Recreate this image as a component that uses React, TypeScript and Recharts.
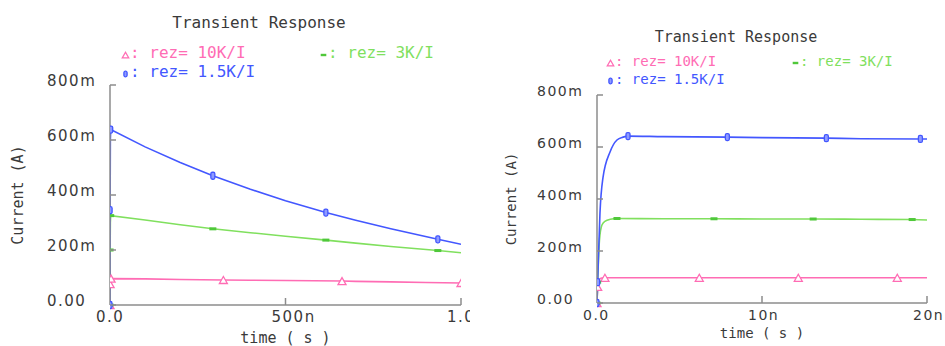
import React from 'react';
import { LineChart, Line, XAxis, YAxis, Legend } from 'recharts';

const MONO = '"DejaVu Sans Mono", monospace';
const SANS = '"DejaVu Sans", sans-serif';
const AXIS = '#8c8c8c';
const INK = '#3a3a3a';
const PINK = '#ff6cb4';
const GREEN = '#80e05e';
const BLUE = '#4357ff';

// current axis, shared by both plots (values in mA)
const currentTicks = [0, 200, 400, 600, 800];
const currentLabels = ['0.00', '200m', '400m', '600m', '800m'];

// left plot: 0 .. 1us (time in ns)
const longTicks = [0, 500, 1000];
const longLabels = ['0.0', '500n', '1.0u'];

const longPinkT = [0, 0.3, 3, 100, 200, 323, 400, 500, 661, 700, 800, 900, 1000];
const longPinkI = [0, 76, 96, 95, 93, 91, 90, 89, 87, 86, 84, 82, 80];
const longPinkMarks = [0, 1, 2, 5, 8, 12];

const longGreenT = [0, 0.3, 1, 2, 100, 200, 293, 400, 500, 615, 700, 800, 934, 1000];
const longGreenI = [0, 200, 300, 325, 309, 292, 277, 263, 250, 236, 225, 213, 198, 190];
const longGreenMarks = [0, 1, 3, 6, 9, 12];

const longBlueT = [0, 0.3, 1, 2, 100, 200, 293, 400, 500, 615, 700, 800, 934, 1000];
const longBlueI = [0, 345, 600, 638, 575, 518, 470, 421, 379, 336, 308, 277, 239, 221];
const longBlueMarks = [0, 1, 3, 6, 9, 12];

// right plot: 0 .. 20ns
const shortTicks = [0, 10, 20];
const shortLabels = ['0.0', '10n', '20n'];

const shortPinkT = [0, 0.04, 0.1, 0.2, 0.3, 0.48, 3, 6.2, 9, 12.2, 15, 18.2, 20];
const shortPinkI = [0, 62, 86, 94, 96, 97, 97, 97, 97, 97, 97, 97, 97];
const shortPinkMarks = [0, 1, 5, 7, 9, 11];

const shortGreenT = [0, 0.04, 0.15, 0.3, 0.5, 0.8, 1.21, 4, 7.09, 10, 13.1, 16, 19.1, 20];
const shortGreenI = [0, 80, 242, 300, 315, 322, 325, 324, 324, 323, 323, 322, 321, 319];
const shortGreenMarks = [0, 1, 6, 8, 10, 12];

const shortBlueT = [0, 0.04, 0.18, 0.36, 0.79, 1.21, 1.58, 1.88, 4, 7.9, 10, 13.9, 16, 19.6, 20];
const shortBlueI = [0, 80, 346, 481, 581, 627, 638, 642, 640, 638, 636, 634, 632, 631, 631];
const shortBlueMarks = [0, 1, 7, 9, 11, 13];

const seriesNames = ['rez= 10K/I', 'rez= 3K/I', 'rez= 1.5K/I'];
const seriesColors = [PINK, GREEN, BLUE];
const seriesMarkers = ['tri', 'dash', 'box'];

const toPoints = (t: number[], v: number[], marks: number[]) =>
  t.map((time, i) => ({ t: time, i: v[i], m: marks.includes(i) }));

function Marker({ kind, x, y, color, s = 1 }: any) {
  if (kind === 'tri') {
    const w = 4 * s;
    const h = 3.5 * s;
    return (
      <polygon
        points={`${x - w},${y + h} ${x + w},${y + h} ${x},${y - h}`}
        fill="#fff"
        stroke={color}
        strokeWidth={1.3}
      />
    );
  }
  if (kind === 'dash') {
    return <rect x={x - 3.5 * s} y={y - 1.5 * s} width={7 * s} height={3 * s} fill="#4fc83a" />;
  }
  return (
    <rect
      x={x - 2 * s}
      y={y - 3.5 * s}
      width={4 * s}
      height={7 * s}
      rx={1.5}
      fill="#8f9bff"
      stroke={color}
      strokeWidth={1.3}
    />
  );
}

const markerDot = (kind: string, color: string) => (props: any) => {
  const { cx, cy, payload, index } = props;
  if (!payload || !payload.m) return <g key={index} />;
  return <Marker key={index} kind={kind} x={cx} y={cy} color={color} />;
};

function YTick({ x, y, payload, fs, lx }: any) {
  const label = currentLabels[currentTicks.indexOf(payload.value)];
  return (
    <g>
      <line x1={x} x2={x + 6} y1={y} y2={y} stroke={AXIS} strokeWidth={1.5} />
      <text x={x - lx} y={y - 4} dominantBaseline="central" fontFamily={SANS} fontSize={fs} fill={INK} letterSpacing={1.5}>
        {label}
      </text>
    </g>
  );
}

function XTick({ x, y, payload, ticks, labels, fs }: any) {
  const label = labels[ticks.indexOf(payload.value)];
  return (
    <g>
      {payload.value !== 0 && <line x1={x} x2={x} y1={y} y2={y - 7} stroke={AXIS} strokeWidth={1.5} />}
      <text x={x - 14} y={y + 12} dominantBaseline="central" fontFamily={SANS} fontSize={fs} fill={INK} letterSpacing={1.5}>
        {label}
      </text>
    </g>
  );
}

// legend spots: [x of symbol, y of row centre] for pink, green, blue
function LegendBlock({ payload, fs, spots }: any) {
  return (
    <div style={{ position: 'relative', width: '100%', height: '100%', fontFamily: MONO, fontSize: fs }}>
      {seriesNames.map((name, k) => {
        const p = (payload || []).find((e: any) => e.value === name);
        const color = p ? p.color : seriesColors[k];
        const [x, y] = spots[k];
        return (
          <div
            key={name}
            style={{ position: 'absolute', left: x, top: y - 8, height: 16, lineHeight: '16px', whiteSpace: 'nowrap', color }}
          >
            <svg width={9} height={16} style={{ display: 'inline-block', verticalAlign: 'top' }}>
              <Marker kind={seriesMarkers[k]} x={4.5} y={10} color={color} s={0.8} />
            </svg>
            {': ' + name}
          </div>
        );
      })}
    </div>
  );
}

function Plot({ left, width, margin, yAxisW, xAxisH, fs, legendFs, ticks, labels, domain, series, curve, title, spots, yLabelOffset, xLabelOffset, lx }: any) {
  return (
    <div style={{ position: 'absolute', left, top: 0, width, height: 346 }}>
      <div
        style={{
          position: 'absolute',
          left: title.x - 150,
          top: title.y - 10,
          width: 300,
          textAlign: 'center',
          fontFamily: MONO,
          fontSize: fs,
          lineHeight: '20px',
          color: INK,
        }}
      >
        Transient Response
      </div>
      <LineChart width={width} height={346} margin={margin}>
        <XAxis
          dataKey="t"
          type="number"
          domain={domain}
          ticks={ticks}
          allowDataOverflow
          height={xAxisH}
          tickSize={0}
          tickMargin={0}
          tickLine={false}
          axisLine={{ stroke: AXIS, strokeWidth: 1.5 }}
          tick={<XTick ticks={ticks} labels={labels} fs={fs - 1} />}
          interval={0}
          label={{ value: 'time ( s )', position: 'insideBottom', offset: xLabelOffset, fill: INK, fontSize: fs - 1, fontFamily: MONO }}
        />
        <YAxis
          type="number"
          domain={[0, 800]}
          ticks={currentTicks}
          width={yAxisW}
          tickSize={0}
          tickMargin={0}
          tickLine={false}
          axisLine={{ stroke: AXIS, strokeWidth: 1.5 }}
          tick={<YTick fs={fs - 1} lx={lx} />}
          interval={0}
          label={{
            value: 'Current (A)',
            angle: -90,
            position: 'insideLeft',
            offset: yLabelOffset,
            fill: INK,
            fontSize: fs - 1,
            fontFamily: MONO,
            style: { textAnchor: 'middle' },
          }}
        />
        <Legend
          verticalAlign="middle"
          align="center"
          layout="horizontal"
          wrapperStyle={{ left: 0, top: 0, width, height: 90 }}
          content={<LegendBlock fs={legendFs} spots={spots} />}
        />
        {series.map((s: any, k: number) => (
          <Line
            key={seriesNames[k]}
            data={s}
            dataKey="i"
            name={seriesNames[k]}
            type={curve}
            stroke={seriesColors[k]}
            strokeWidth={1.6}
            dot={markerDot(seriesMarkers[k], seriesColors[k])}
            activeDot={false}
            isAnimationActive={false}
          />
        ))}
      </LineChart>
    </div>
  );
}

export default function App() {
  const longSeries = [
    toPoints(longPinkT, longPinkI, longPinkMarks),
    toPoints(longGreenT, longGreenI, longGreenMarks),
    toPoints(longBlueT, longBlueI, longBlueMarks),
  ];
  const shortSeries = [
    toPoints(shortPinkT, shortPinkI, shortPinkMarks),
    toPoints(shortGreenT, shortGreenI, shortGreenMarks),
    toPoints(shortBlueT, shortBlueI, shortBlueMarks),
  ];
  return (
    <div style={{ position: 'absolute', left: 0, top: 0, width: 945, height: 346, background: '#fff', overflow: 'hidden' }}>
      <Plot
        left={0}
        width={470}
        margin={{ top: 85, right: 9, bottom: 0, left: 0 }}
        yAxisW={110}
        xAxisH={41}
        fs={16}
        legendFs={16}
        ticks={longTicks}
        labels={longLabels}
        domain={[0, 1000]}
        series={longSeries}
        curve="linear"
        title={{ x: 259, y: 23 }}
        spots={[[121, 53], [319, 53], [121, 72]]}
        yLabelOffset={18}
        xLabelOffset={3}
        lx={63}
      />
      <Plot
        left={480}
        width={465}
        margin={{ top: 95, right: 18, bottom: 0, left: 0 }}
        yAxisW={117}
        xAxisH={43}
        fs={15}
        legendFs={14}
        ticks={shortTicks}
        labels={shortLabels}
        domain={[0, 20]}
        series={shortSeries}
        curve="monotone"
        title={{ x: 256, y: 37 }}
        spots={[[126, 61], [311, 61], [126, 79]]}
        yLabelOffset={31}
        xLabelOffset={8}
        lx={60}
      />
    </div>
  );
}
